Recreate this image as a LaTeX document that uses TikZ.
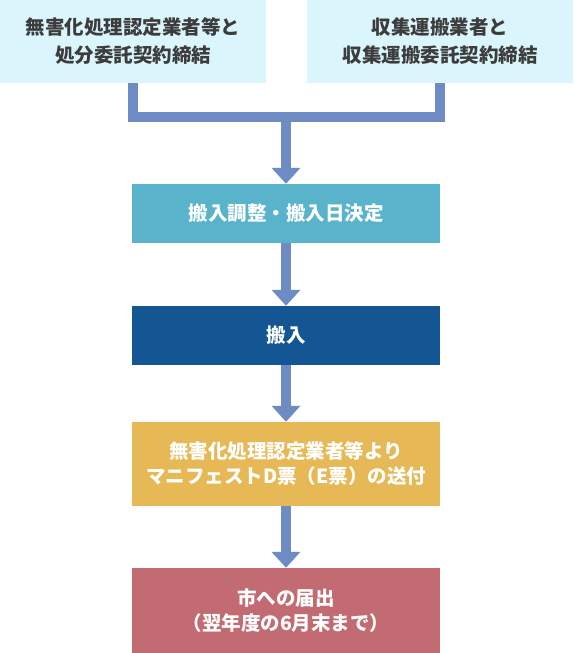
\documentclass[tikz,border=0pt]{standalone}
\usepackage{fontspec}
\setmainfont{Noto Sans CJK JP}
\usetikzlibrary{arrows.meta}
\definecolor{topfill}{HTML}{DAF6FC}
\definecolor{toptext}{HTML}{3C3C3C}
\definecolor{conn}{HTML}{6E8BC4}
\definecolor{fillA}{HTML}{58B3CB}
\definecolor{fillB}{HTML}{145593}
\definecolor{fillC}{HTML}{E6B956}
\definecolor{fillD}{HTML}{C26B73}
\tikzset{
  topbox/.style={fill=topfill, text=toptext, minimum width=266pt, minimum height=83pt,
    inner sep=0pt, align=center, font=\fontsize{19.5}{28}\selectfont\bfseries},
  flowbox/.style={minimum width=308pt, inner sep=0pt, text=white, align=center,
    font=\fontsize{19.5}{25}\selectfont\bfseries},
  link/.style={draw=conn, line width=9.5pt},
  flowarrow/.style={link, -{Triangle[width=28pt,length=16pt]}},
}
\begin{document}
\begin{tikzpicture}[x=1pt,y=-1pt]
\useasboundingbox (0,0) rectangle (573,653);
\node[topbox] (tl) at (133,41.5) {無害化処理認定業者等と\\処分委託契約締結};
\node[topbox] (tr) at (440,41.5) {収集運搬業者と\\収集運搬委託契約締結};
\node[flowbox, fill=fillA, minimum height=59pt] (b1) at (286,213.5) {搬入調整・搬入日決定};
\node[flowbox, fill=fillB, minimum height=59pt] (b2) at (286,335.5) {搬入};
\node[flowbox, fill=fillC, minimum height=84pt] (b3) at (286,464) {無害化処理認定業者等より\\マニフェストD票（E票）の送付};
\node[flowbox, fill=fillD, minimum height=85pt] (b4) at (286,610.5) {市への届出\\（翌年度の6月末まで）};
\coordinate (j) at (286,117);
\draw[link, line join=miter] (tl.south) -- (tl.south |- j) -- (tr.south |- j) -- (tr.south);
\draw[flowarrow] (j) -- (b1.north);
\draw[flowarrow] (b1.south) -- (b2.north);
\draw[flowarrow] (b2.south) -- (b3.north);
\draw[flowarrow] (b3.south) -- (b4.north);
\end{tikzpicture}
\end{document}
